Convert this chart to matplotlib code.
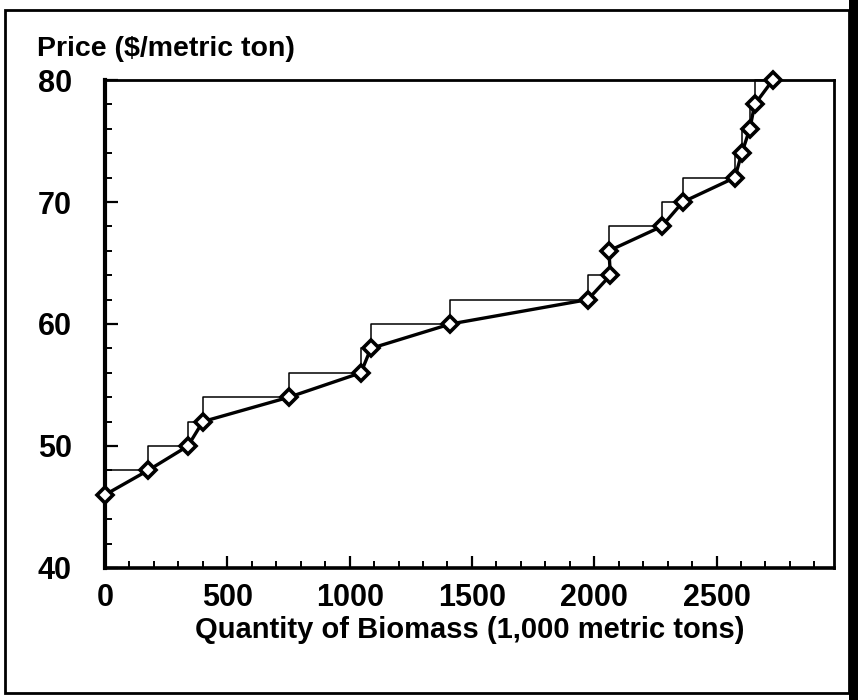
import matplotlib.pyplot as plt
from matplotlib.patches import Rectangle
from matplotlib.ticker import MultipleLocator

# supply curve points
quantity = [0, 176, 339, 400, 752, 1046, 1087, 1412, 1974, 2066, 2060,
            2276, 2362, 2575, 2603, 2636, 2656, 2730]
price = [46, 48, 50, 52, 54, 56, 58, 60, 62, 64, 66,
         68, 70, 72, 74, 76, 78, 80]

x_ticks = [0, 500, 1000, 1500, 2000, 2500]
x_tick_labels = ['0', '500', '1000', '1500', '2000', '2500']
y_ticks = [40, 50, 60, 70, 80]

plt.rcParams['font.family'] = ['Liberation Sans', 'DejaVu Sans']

fig = plt.figure(figsize=(8.58, 7.0), dpi=100)
ax = fig.add_axes([0.1224, 0.1886, 0.8496, 0.6971])

# thin step outline, then the thick line with diamonds
ax.step(quantity, price, where='pre', color='black', lw=1.1, zorder=2,
        clip_on=False)
ax.plot(quantity, price, color='black', lw=2.4, marker='D', ms=8,
        mfc='white', mec='black', mew=2.6, zorder=3, clip_on=False)

ax.set_xlim(0, 2980)
ax.set_ylim(40, 80)
ax.set_xticks(x_ticks)
ax.set_xticklabels(x_tick_labels)
ax.set_yticks(y_ticks)
ax.xaxis.set_minor_locator(MultipleLocator(100))
ax.yaxis.set_minor_locator(MultipleLocator(2))

ax.tick_params(axis='both', which='major', direction='in', length=9,
               width=1.6, labelsize=22)
ax.tick_params(axis='both', which='minor', direction='in', length=5,
               width=1.4)
ax.tick_params(axis='x', which='major', pad=11)
ax.tick_params(axis='y', which='major', pad=24)
for lbl in ax.get_xticklabels() + ax.get_yticklabels():
    lbl.set_fontweight('bold')

for side, s in ax.spines.items():
    s.set_linewidth(2.0)
ax.spines['left'].set_linewidth(3.0)
ax.spines['bottom'].set_linewidth(2.6)

fig.text(0.043, 0.93, 'Price ($/metric ton)', fontsize=20.5, fontweight='bold',
         ha='left', va='center')
ax.set_xlabel('Quantity of Biomass (1,000 metric tons)', fontsize=21,
              fontweight='bold', labelpad=2)

# scanned page frame
fig.patches.append(Rectangle((0.006, 0.01), 0.984, 0.976, transform=fig.transFigure,
                             fill=False, ec='black', lw=2.0))
fig.patches.append(Rectangle((0.99, 0.0), 0.01, 1.0, transform=fig.transFigure,
                             fc='black', ec='none'))

fig.savefig('out.png', dpi=100)
